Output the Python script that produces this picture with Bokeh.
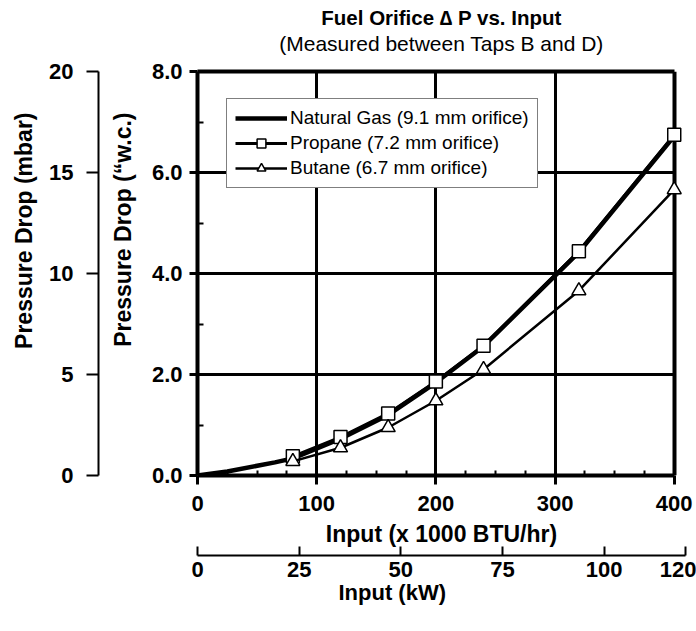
from bokeh.plotting import figure
from bokeh.models import (LinearAxis, Range1d, FixedTicker, Legend, LegendItem,
                          Title, NumeralTickFormatter, Grid)
from bokeh.embed import file_html
from bokeh.resources import INLINE

# ---------------- texts ----------------
TITLE = "Fuel Orifice \u2206 P vs. Input"
SUBTITLE = "(Measured between Taps B and D)"
X_LABEL = "Input (x 1000 BTU/hr)"
KW_LABEL = "Input (kW)"
Y_LABEL = "Pressure Drop (\u201cw.c.)"
MBAR_LABEL = "Pressure Drop (mbar)"
SERIES_NAMES = ["Natural Gas (9.1 mm orifice)",
                "Propane (7.2 mm orifice)",
                "Butane (6.7 mm orifice)"]

# ---------------- axes / ticks ----------------
x_ticks = [0, 100, 200, 300, 400]
x_minor = [25, 50, 75, 125, 150, 175, 225, 250, 275, 325, 350, 375]
y_ticks = [0, 2, 4, 6, 8]
y_minor = [1, 3, 5, 7]
kw_ticks = [0, 25, 50, 75, 100, 120]
mbar_ticks = [0, 5, 10, 15, 20]
x_max = 400
y_max = 8
kw_max = 120
mbar_max = 20
kw_per_kbtuh = 0.29307

# ---------------- data ----------------
ng_x = [0, 25, 65, 80, 120, 160, 200, 240, 320, 400]
ng_y = [0.0, 0.08, 0.26, 0.34, 0.73, 1.20, 1.84, 2.56, 4.42, 6.72]
propane_x = [80, 120, 160, 200, 240, 320, 400]
propane_y = [0.38, 0.76, 1.23, 1.86, 2.57, 4.44, 6.75]
butane_x = [80, 120, 160, 200, 240, 320, 400]
butane_y = [0.28, 0.55, 0.95, 1.48, 2.10, 3.66, 5.66]

FONT = "Liberation Sans"
TICK_SIZE = "22px"
AXTITLE_SIZE = "23px"

x_end = kw_max / kw_per_kbtuh          # frame reaches 120 kW

p = figure(width=696, height=631, frame_width=488, frame_height=404,
           x_range=Range1d(0, x_end), y_range=Range1d(0, y_max),
           output_backend="svg", toolbar_location=None, title=None,
           min_border_left=197, min_border_right=11,
           min_border_top=71, min_border_bottom=156)
p.background_fill_color = "white"
p.border_fill_color = "white"
p.outline_line_color = None


def style_axis(ax):
    ax.major_label_text_font = FONT
    ax.major_label_text_font_size = TICK_SIZE
    ax.major_label_text_font_style = "bold"
    ax.major_label_text_color = "black"
    ax.axis_line_color = "black"
    ax.major_tick_line_color = "black"
    ax.minor_tick_line_color = "black"


def axis_title(text, standoff, valign, align="center", offset=0, size=AXTITLE_SIZE):
    return Title(text=text, align=align, offset=offset, standoff=standoff,
                 vertical_align=valign, text_font=FONT,
                 text_font_size=size, text_font_style="bold",
                 text_color="black")


# ---- bottom BTU axis ----
xa = p.xaxis[0]
xa.bounds = (0, x_max)
xa.ticker = FixedTicker(ticks=x_ticks, minor_ticks=x_minor)
style_axis(xa)
xa.axis_line_width = 4
xa.major_tick_line_width = 3
xa.major_tick_out = 9
xa.major_tick_in = 0
xa.minor_tick_line_width = 2
xa.minor_tick_in = 5
xa.minor_tick_out = 0
xa.major_label_standoff = 11

p.add_layout(axis_title(X_LABEL, 14, "top"), "below")

# ---- kW axis ----
p.extra_x_ranges = {"kw": Range1d(0, kw_max)}
ka = LinearAxis(x_range_name="kw", ticker=FixedTicker(ticks=kw_ticks))
style_axis(ka)
ka.axis_line_width = 2
ka.major_tick_line_width = 2
ka.major_tick_in = 9
ka.major_tick_out = 0
ka.major_label_standoff = 6
p.add_layout(ka, "below")
p.add_layout(axis_title(KW_LABEL, 0, "top", align="left", offset=141, size="22px"),
             "below")

# ---- top border, carrying the subtitle ----
top = LinearAxis(ticker=FixedTicker(ticks=[]), bounds=(0, x_max),
                 major_tick_out=0, major_tick_in=0, minor_tick_out=0,
                 minor_tick_in=0, major_label_standoff=0,
                 axis_line_width=4, axis_line_color="black",
                 axis_label=SUBTITLE, axis_label_standoff=17,
                 axis_label_text_font=FONT, axis_label_text_font_size="21px",
                 axis_label_text_font_style="normal",
                 axis_label_text_color="black")
p.add_layout(top, "above")
p.add_layout(Title(text=TITLE, align="center", text_font=FONT,
                   text_font_size="20.5px", text_font_style="bold",
                   text_color="black", standoff=0), "above")

# ---- left main axis ----
ya = p.yaxis[0]
ya.ticker = FixedTicker(ticks=y_ticks, minor_ticks=y_minor)
ya.formatter = NumeralTickFormatter(format="0.0")
style_axis(ya)
ya.axis_line_width = 4
ya.major_tick_line_width = 3
ya.major_tick_out = 8
ya.major_tick_in = 0
ya.minor_tick_line_width = 2
ya.minor_tick_in = 6
ya.minor_tick_out = 0
ya.major_label_standoff = 7

p.add_layout(axis_title(Y_LABEL, 22, "top", align="right", offset=41), "left")

# ---- mbar axis ----
p.extra_y_ranges = {"mbar": Range1d(0, mbar_max)}
ma = LinearAxis(y_range_name="mbar", ticker=FixedTicker(ticks=mbar_ticks))
style_axis(ma)
ma.axis_line_width = 2
ma.major_tick_line_width = 2
ma.major_tick_out = 12
ma.major_tick_in = 0
ma.major_label_standoff = 13
p.add_layout(ma, "left")
p.add_layout(axis_title(MBAR_LABEL, 16, "top", align="right", offset=41), "left")

# ---- grid ----
p.xgrid.ticker = FixedTicker(ticks=x_ticks[1:-1])
p.xgrid.grid_line_color = "black"
p.xgrid.grid_line_width = 3
p.ygrid.visible = False
gy = y_ticks[1:-1]
p.segment(x0=[x_ticks[0]] * len(gy), x1=[x_max] * len(gy), y0=gy, y1=gy,
          line_color="black", line_width=3, level="underlay")
right_border = Grid(dimension=0, ticker=FixedTicker(ticks=[x_max]),
                    grid_line_color="black", grid_line_width=4)
p.add_layout(right_border)

# ---- series ----
r_ng = p.line(ng_x, ng_y, line_width=4.5, line_color="black")
r_pl = p.line(propane_x, propane_y, line_width=3, line_color="black")
r_ps = p.scatter(propane_x, propane_y, marker="square", size=13,
                 fill_color="white", line_color="black", line_width=1.5)
r_bl = p.line(butane_x, butane_y, line_width=2.5, line_color="black")
r_bs = p.scatter(butane_x, butane_y, marker="triangle", size=14,
                 fill_color="white", line_color="black", line_width=1.5)

legend = Legend(items=[LegendItem(label=SERIES_NAMES[0], renderers=[r_ng]),
                       LegendItem(label=SERIES_NAMES[1], renderers=[r_pl, r_ps]),
                       LegendItem(label=SERIES_NAMES[2], renderers=[r_bl, r_bs])],
                location=(29, 287))
legend.label_text_font = FONT
legend.label_text_font_size = "19px"
legend.label_text_color = "black"
legend.label_height = 22
legend.glyph_height = 22
legend.glyph_width = 52
legend.label_standoff = 3
legend.spacing = 3
legend.padding = 8
legend.margin = 0
legend.border_line_color = "black"
legend.border_line_width = 1
legend.background_fill_color = "white"
legend.background_fill_alpha = 1
p.add_layout(legend)

open("out.html", "w").write(file_html(p, INLINE))
